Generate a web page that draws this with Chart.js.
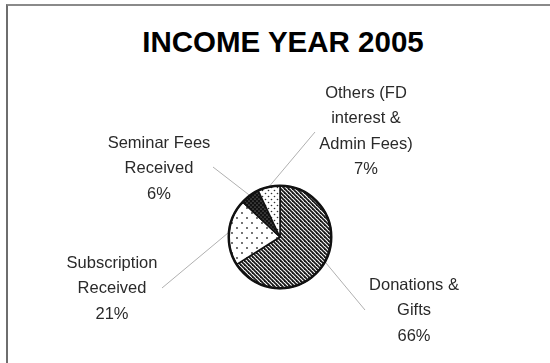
<!DOCTYPE html>
<html>
<head>
<meta charset="utf-8">
<script src="https://cdn.jsdelivr.net/npm/chart.js@4.4.0/dist/chart.umd.min.js"></script>
<style>
    html, body { margin: 0; padding: 0; background: #fff; }
    body { width: 550px; height: 363px; position: relative; overflow: hidden; }
    #frame {
        position: absolute; left: 6px; top: 4px; width: 600px; height: 400px;
        border-left: 2px solid #6e6e6e; border-top: 2px solid #8a8a8a;
    }
    #title {
        position: absolute; left: 0; top: 27px; width: 566px; text-align: center;
        font: bold 29.5px/1 "Liberation Sans", Arial, sans-serif; color: #000;
    }
    #wrap { position: absolute; left: 0; top: 0; width: 550px; height: 363px; }
</style>
</head>
<body>
<div id="frame"></div>
<div id="title">INCOME YEAR 2005</div>
<div id="wrap"><canvas id="income-chart"></canvas></div>
<script>
const categories = ['Donations & Gifts', 'Subscription Received', 'Seminar Fees Received', 'Others (FD interest & Admin Fees)'];
const labelLines = [
    ['Donations &', 'Gifts'],
    ['Subscription', 'Received'],
    ['Seminar Fees', 'Received'],
    ['Others (FD', 'interest &', 'Admin Fees)']
];
const shares = [66, 21, 6, 7];

// label layout, offsets from the pie centre
const leaderEnds = [[85, 73], [-118, 51], [-67, -70], [35, -105]];
const labelOffsets = [[134, 48], [-168, 26], [-121, -94], [86, -144]];

function makePattern(size, paint) {
    const c = document.createElement('canvas');
    c.width = size;
    c.height = size;
    const g = c.getContext('2d');
    paint(g, size);
    return g.createPattern(c, 'repeat');
}

const hatch = makePattern(4, (g, s) => {
    g.fillStyle = '#fff';
    g.fillRect(0, 0, s, s);
    g.strokeStyle = '#1a1a1a';
    g.lineWidth = 1.8;
    for (let k = -1; k <= 1; k++) {
        g.beginPath();
        g.moveTo(k * s - 1, -1);
        g.lineTo(k * s + s + 1, s + 1);
        g.stroke();
    }
});

function dots(size, pts, r, bg, fg) {
    return makePattern(size, (g, s) => {
        g.fillStyle = bg;
        g.fillRect(0, 0, s, s);
        g.fillStyle = fg;
        pts.forEach(([x, y]) => {
            g.beginPath();
            g.arc(x, y, r, 0, Math.PI * 2);
            g.fill();
        });
    });
}

const sparseDots = dots(10, [[2, 3], [7, 8]], 0.9, '#fff', '#333');
const darkDots = dots(4, [[1, 1], [3, 3]], 0.6, '#111', '#aaa');
const lightDots = dots(6, [[1.5, 1.5], [4.5, 4.5]], 0.8, '#fff', '#333');

const pieLabels = {
    id: 'pieLabels',
    beforeDatasetsDraw(chart) {
        const ctx = chart.ctx;
        const arcs = chart.getDatasetMeta(0).data;
        ctx.save();
        ctx.strokeStyle = '#b0b0b0';
        ctx.lineWidth = 1;
        arcs.forEach((arc, i) => {
            const { x, y, startAngle, endAngle, outerRadius } = arc.getProps(['x', 'y', 'startAngle', 'endAngle', 'outerRadius'], true);
            const mid = (startAngle + endAngle) / 2;
            ctx.beginPath();
            ctx.moveTo(x + Math.cos(mid) * outerRadius, y + Math.sin(mid) * outerRadius);
            ctx.lineTo(x + leaderEnds[i][0], y + leaderEnds[i][1]);
            ctx.stroke();
        });
        ctx.restore();
    },
    afterDatasetsDraw(chart) {
        const ctx = chart.ctx;
        const arcs = chart.getDatasetMeta(0).data;
        const { x, y, outerRadius } = arcs[0].getProps(['x', 'y', 'outerRadius'], true);
        ctx.save();
        ctx.strokeStyle = '#111';
        ctx.lineWidth = 2.5;
        ctx.beginPath();
        ctx.arc(x, y, outerRadius, 0, Math.PI * 2);
        ctx.stroke();

        ctx.fillStyle = '#2a2a2a';
        ctx.font = '16.5px "Liberation Sans", Arial, sans-serif';
        ctx.textAlign = 'center';
        ctx.textBaseline = 'middle';
        labelLines.forEach((lines, i) => {
            const all = lines.concat([shares[i] + '%']);
            all.forEach((t, j) => {
                ctx.fillText(t, x + labelOffsets[i][0], y + labelOffsets[i][1] + j * 25.5);
            });
        });
        ctx.restore();
    }
};

new Chart(document.getElementById('income-chart'), {
    type: 'pie',
    data: {
        labels: categories,
        datasets: [{
            data: shares,
            backgroundColor: [hatch, sparseDots, darkDots, lightDots],
            borderColor: '#111',
            borderWidth: 1.5
        }]
    },
    options: {
        responsive: true,
        maintainAspectRatio: false,
        animation: false,
        layout: { padding: { top: 185, bottom: 74, left: 10, right: 0 } },
        plugins: {
            legend: { display: false },
            tooltip: { enabled: false }
        }
    },
    plugins: [pieLabels]
});
</script>
</body>
</html>
